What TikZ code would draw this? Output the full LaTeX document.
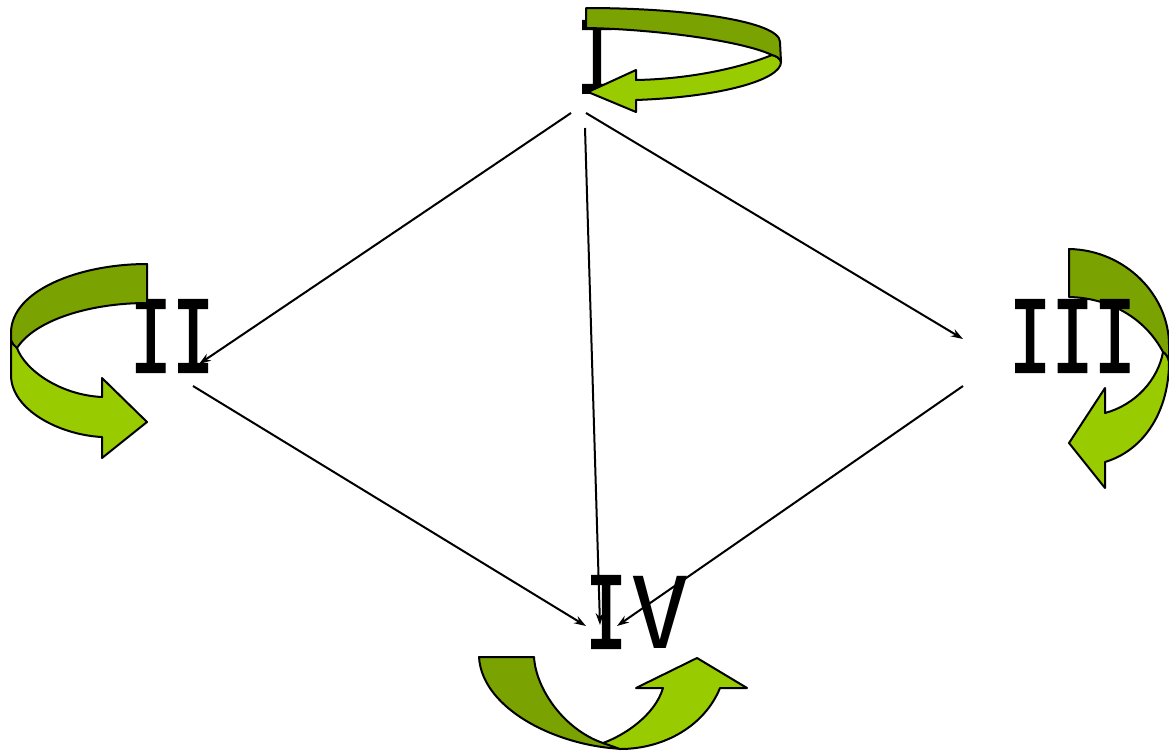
\documentclass[tikz,border=0pt]{standalone}
\usepackage{fontspec}
\newfontfamily\romfont{DejaVu Sans Mono}
\newfontfamily\romIfont[FakeBold=2]{DejaVu Sans Mono}
\usetikzlibrary{arrows.meta}
\definecolor{darkgrn}{RGB}{122,162,0}
\definecolor{lightgrn}{RGB}{153,204,0}
\newcommand{\narrowI}[1]{\scalebox{0.71}[1]{\romIfont #1}}
\tikzset{
  lbl/.style={inner sep=0pt, anchor=base, font=\romfont\fontsize{99}{99}\selectfont},
  conn/.style={line width=2pt, -{Stealth[length=12pt,width=8pt]}},
  ribbon/.style={draw=black, line width=2pt, line join=round},
}
\begin{document}
\begin{tikzpicture}[x=1pt,y=-1pt]
\useasboundingbox (0,0) rectangle (1169,750);
% connector endpoints
\coordinate (I-l) at (571,113);
\coordinate (I-r) at (586,113);
\coordinate (I-b) at (585,128);
\coordinate (II-t) at (199,364);
\coordinate (II-b) at (193,386);
\coordinate (III-t) at (963,339);
\coordinate (III-b) at (963,386);
\coordinate (IV-l) at (586,626);
\coordinate (IV-m) at (600,625);
\coordinate (IV-r) at (617,626);
% connectors
\draw[conn] (I-l) -- (II-t);
\draw[conn] (I-r) -- (III-t);
\draw[conn] (I-b) -- (IV-m);
\draw[conn] (II-b) -- (IV-l);
\draw[conn] (III-b) -- (IV-r);
% labels
\node[lbl] (I) at (597,93) {\narrowI{I}};
\node[lbl] (II) at (172,372) {\narrowI{II}};
\node[lbl] (IV) at (637.5,648) {\narrowI{I}\kern3pt V};
% ribbon arrow at I
\filldraw[ribbon, fill=lightgrn] (772,55) .. controls (740,68) and (690,79) .. (636,80) -- (636,70) -- (588,92) -- (636,112) -- (636,100) .. controls (720,97) and (781,80) .. (781,62) .. controls (780,58) and (776,56) .. (772,55) -- cycle;
\filldraw[ribbon, fill=darkgrn] (586,8) .. controls (690,8) and (780,22) .. (780,42) -- (781,62) .. controls (780,58) and (776,56) .. (772,55) .. controls (740,40) and (650,29) .. (586,28) -- cycle;
% ribbon arrow at II
\filldraw[ribbon, fill=lightgrn] (11,335) -- (11,375) .. controls (11,410) and (60,435) .. (102,437) -- (102,458) -- (147,422) -- (102,378) -- (102,397) .. controls (60,395) and (25,370) .. (17,348) .. controls (13,343) and (11,340) .. (11,335) -- cycle;
\filldraw[ribbon, fill=darkgrn] (147,264) .. controls (80,264) and (11,290) .. (11,333) -- (11,340) .. controls (12,343) and (14,346) .. (17,348) .. controls (35,320) and (90,303) .. (147,303) -- cycle;
% ribbon arrow at III
\filldraw[ribbon, fill=darkgrn] (1069,249) .. controls (1125,250) and (1169,295) .. (1169,345) -- (1169,362) .. controls (1168,357) and (1166,354) .. (1163,352) .. controls (1145,318) and (1110,298) .. (1069,297) -- cycle;
\filldraw[ribbon, fill=lightgrn] (1163,352) .. controls (1158,380) and (1135,405) .. (1105,413) -- (1105,388) -- (1069,443) -- (1105,488) -- (1105,462) .. controls (1145,450) and (1169,410) .. (1169,362) .. controls (1168,357) and (1166,354) .. (1163,352) -- cycle;
\node[lbl] (III) at (1072.5,372) {\narrowI{III}};
% ribbon arrow at IV
\filldraw[ribbon, fill=darkgrn] (479,657) -- (534,657) .. controls (536,690) and (565,730) .. (603,743) -- (627,749) .. controls (560,748) and (482,710) .. (479,657) -- cycle;
\filldraw[ribbon, fill=lightgrn] (603,743) .. controls (625,735) and (655,715) .. (663,688) -- (636,688) -- (697,658) -- (747,688) -- (720,688) .. controls (705,725) and (665,749) .. (620,749) -- cycle;
\end{tikzpicture}
\end{document}
